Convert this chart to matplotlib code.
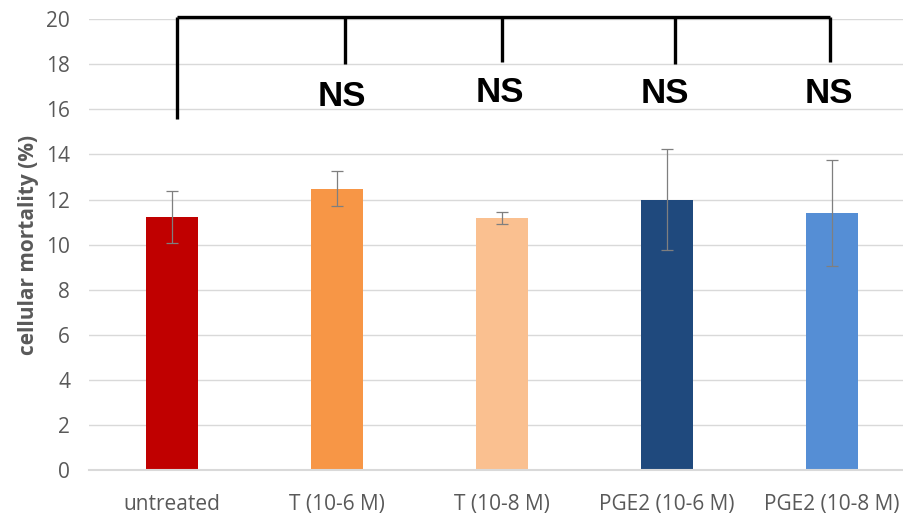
import numpy as np
import matplotlib
matplotlib.use("Agg")
import matplotlib.pyplot as plt

# values
groups = ["untreated", "T (10-6 M)", "T (10-8 M)", "PGE2 (10-6 M)", "PGE2 (10-8 M)"]
mortality = [11.22, 12.48, 11.18, 12.0, 11.42]
err = [1.15, 0.78, 0.25, 2.25, 2.35]
colors = ["#C00000", "#F79646", "#FAC090", "#1F497D", "#558ED5"]

# significance bracket: x of each leg (category units), bottom of each leg
bracket_x = [0.03, 1.05, 2.0, 3.05, 3.99]
bracket_low = [15.55, 18.0, 18.1, 18.0, 18.1]
bracket_top = 20.1
ns_labels = ["NS", "NS", "NS", "NS"]
ns_x = [1.03, 1.99, 2.99, 3.98]
ns_y = [16.58, 16.73, 16.7, 16.7]

fig = plt.figure(figsize=(9.04, 5.15), dpi=100)
ax = fig.add_axes([0.099, 0.087, 0.9126, 0.876])

x = np.arange(len(groups))
ax.bar(x, mortality, width=0.31, color=colors, zorder=2)
ax.errorbar(x, mortality, yerr=err, fmt="none", ecolor="#7f7f7f",
            elinewidth=0.9, capsize=4, capthick=0.9, zorder=3)

ax.set_ylim(0, 20)
ax.set_xlim(-0.5, 4.5)
ax.set_yticks(np.arange(0, 21, 2))
ax.set_xticks(x)
ax.set_xticklabels(groups)
ax.yaxis.grid(True, color="#d9d9d9", linewidth=1, zorder=0)
ax.set_axisbelow(True)
for s in ["top", "right", "left"]:
    ax.spines[s].set_visible(False)
ax.spines["bottom"].set_color("#d9d9d9")
ax.spines["bottom"].set_linewidth(1.5)
ax.tick_params(length=0, labelsize=15, labelcolor="#595959", pad=8)
ax.tick_params(axis="x", pad=17)
ax.tick_params(axis="y", pad=14)
for lab in ax.get_xticklabels() + ax.get_yticklabels():
    lab.set_family("Open Sans")
ax.set_ylabel("cellular mortality (%)", fontsize=15, fontweight="bold",
              color="#595959", family="Open Sans", labelpad=5)

# bracket
kw = dict(color="black", linewidth=2.4, solid_capstyle="butt", clip_on=False, zorder=4)
ax.plot([bracket_x[0], bracket_x[-1]], [bracket_top, bracket_top], **kw)
for bx, low in zip(bracket_x, bracket_low):
    ax.plot([bx, bx], [low, bracket_top], **kw)
for tx, lab, ty in zip(ns_x, ns_labels, ns_y):
    ax.text(tx, ty, lab, ha="center", va="center", fontsize=25,
            fontweight="bold", family="Liberation Sans", zorder=4)

fig.savefig("out.png", dpi=100)
